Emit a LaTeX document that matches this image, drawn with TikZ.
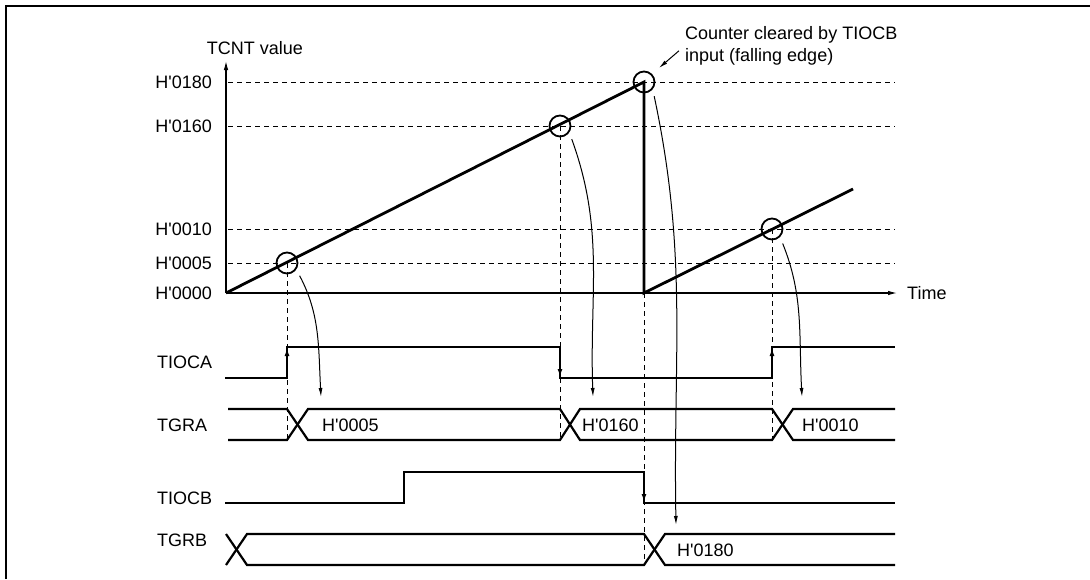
\documentclass[tikz,border=0pt]{standalone}
\usepackage{fontspec}
\setmainfont{Liberation Sans}
\usetikzlibrary{arrows.meta}
\newcommand{\hq}{H\textquotesingle}
\tikzset{
  axisline/.style={line width=1.1pt, -{Latex[length=9pt,width=4.5pt]}},
  guide/.style={line width=1pt, dash pattern=on 5pt off 4pt},
  ramp/.style={line width=2.8pt},
  wave/.style={line width=2.2pt},
  edgetip/.style={line width=2.2pt, -{Latex[length=8pt,width=5pt]}},
  hitcircle/.style={draw, circle, line width=1.8pt, minimum size=21pt, inner sep=0pt},
  transfer/.style={line width=1pt, -{Latex[length=9pt,width=4pt]}},
  lvl/.style={anchor=east, inner sep=0pt},
  rowlabel/.style={anchor=west, inner sep=0pt},
  busval/.style={anchor=west, inner sep=0pt}
}

\begin{document}
\begin{tikzpicture}[x=1pt, y=-1pt, every node/.style={font=\fontsize{18}{22}\selectfont}]
  \useasboundingbox (0,0) rectangle (1090,579);
  \draw[line width=2.2pt] (6,579) -- (6,6) -- (1090,6);

  % counter plot
  \coordinate (o) at (226,293);
  \draw[axisline] (o) -- (226,61);
  \draw[axisline] (o) -- (897,293);
  \node (ylab) at (255,48) {TCNT value};
  \node[rowlabel] (xlab) at (907,293) {Time};
  \foreach \y/\t in {82/0180, 126/0160, 229/0010, 263/0005} {
    \draw[guide] (228,\y) -- (895,\y);
    \node[lvl] at (212,\y) {\hq\t};
  }
  \node[lvl] (zero) at (212,293) {\hq0000};

  \node[hitcircle] (c1) at (287,263) {};
  \node[hitcircle] (c2) at (560,126) {};
  \node[hitcircle] (c3) at (644,82) {};
  \node[hitcircle] (c4) at (772,229) {};
  \draw[ramp] (o) -- (c3.center) -- (c3 |- o) -- (853,189);

  \node[anchor=north west, align=left, inner sep=0pt] (note) at (685,26) {Counter cleared by TIOCB\\input (falling edge)};
  \draw[transfer, shorten <=8pt, shorten >=9pt] (note.west) -- (c3.45);

  % compare-match / capture guides
  \draw[guide] (c1.center) -- (c1 |- 0,440);
  \draw[guide] (c2.center) -- (c2 |- 0,440);
  \draw[guide] (c4.center) -- (c4 |- 0,440);
  \draw[guide] (c3 |- o) -- (c3 |- 0,565);

  % waveforms
  \node[rowlabel] (tioca) at (157,362) {TIOCA};
  \node[rowlabel] (tgra) at (157,425) {TGRA};
  \node[rowlabel] (tiocb) at (157,498) {TIOCB};
  \node[rowlabel] (tgrb) at (157,540) {TGRB};

  \draw[wave] (225,378) -- (287,378) -- (287,347) -- (560,347) -- (560,378) -- (772,378) -- (772,347) -- (895,347);
  \draw[edgetip] (287,366) -- (287,348);
  \draw[edgetip] (560,359) -- (560,377);
  \draw[edgetip] (772,366) -- (772,348);

  \draw[wave] (228,409) -- (287,409) -- (308,440) -- (560,440) -- (580,409) -- (772,409) -- (793,440) -- (895,440);
  \draw[wave] (228,440) -- (287,440) -- (308,409) -- (560,409) -- (580,440) -- (772,440) -- (793,409) -- (895,409);
  \node[busval] (va1) at (322,425) {\hq0005};
  \node[busval] (va2) at (582,425) {\hq0160};
  \node[busval] (va3) at (802,425) {\hq0010};

  \draw[wave] (225,503) -- (404,503) -- (404,472) -- (644,472) -- (644,503) -- (895,503);
  \draw[edgetip] (644,484) -- (644,502);

  \draw[wave] (226,534) -- (247,565) -- (644,565) -- (665,534) -- (895,534);
  \draw[wave] (226,565) -- (247,534) -- (644,534) -- (665,565) -- (895,565);
  \node[busval] (vb1) at (677,550) {\hq0180};

  % transfers into the registers
  \coordinate (t1) at (321,397);
  \coordinate (t2) at (593,397);
  \coordinate (t3) at (676,525);
  \coordinate (t4) at (802,397);
  \draw[transfer, shorten <=7pt] (c1.-35) to[out=-62, in=93] (t1);
  \draw[transfer, shorten <=7pt] (c2.-35) to[out=-70, in=92] (t2);
  \draw[transfer, shorten <=7pt] (c3.-40) to[out=-78, in=91] (t3);
  \draw[transfer, shorten <=7pt] (c4.-45) to[out=-68, in=93] (t4);
\end{tikzpicture}
\end{document}
